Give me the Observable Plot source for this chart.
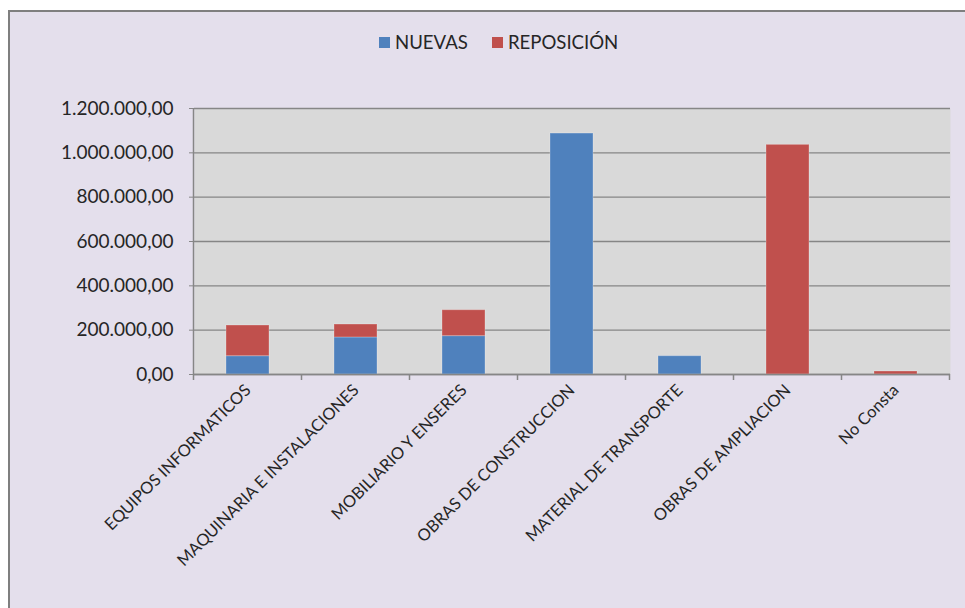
<!DOCTYPE html>
<html>
<head>
<meta charset="utf-8">
<script src="https://cdn.jsdelivr.net/npm/d3@7"></script>
<script src="https://cdn.jsdelivr.net/npm/@observablehq/plot@0.6"></script>
<style>
  body { margin: 0; background: #ffffff; font-family: Lato, "Open Sans", sans-serif; }
  #frame { position: absolute; left: 8px; top: 10px; width: 990px; height: 640px; border: 2px solid #7f7f7f; background: #E4DFEC; box-sizing: border-box; }
  #legend { position: absolute; left: 379px; top: 31px; display: flex; align-items: center; font-size: 18.6px; color: #262626; }
  .sw { display: inline-block; width: 11px; height: 11px; margin-right: 5px; }
  .item { display: flex; align-items: center; margin-right: 24px; }
  #chart { position: absolute; left: 0; top: 70px; }
</style>
</head>
<body>
<div id="frame"></div>
<div id="legend"></div>
<div id="chart"></div>
<script>
const categories = ["EQUIPOS INFORMATICOS", "MAQUINARIA E INSTALACIONES", "MOBILIARIO Y ENSERES", "OBRAS DE CONSTRUCCION", "MATERIAL DE TRANSPORTE", "OBRAS DE AMPLIACION", "No Consta"];
const series = ["NUEVAS", "REPOSICIÓN"];
const colors = ["#4F81BD", "#C0504D"];
const nuevas = [82500, 167000, 173000, 1087000, 82500, 0, 0];
const reposicion = [138500, 58500, 117000, 0, 0, 1036000, 13500];
const yTicks = [0, 200000, 400000, 600000, 800000, 1000000, 1200000];

const data = [];
categories.forEach((c, i) => {
  data.push({cat: c, series: series[0], value: nuevas[i]});
  data.push({cat: c, series: series[1], value: reposicion[i]});
});

const loc = d3.formatLocale({decimal: ",", thousands: ".", grouping: [3], currency: ["", "€"]});
const fmt = loc.format(",.2f");

// legend
const legend = document.getElementById("legend");
series.forEach((s, i) => {
  const it = document.createElement("div");
  it.className = "item";
  it.innerHTML = `<span class="sw" style="background:${colors[i]}"></span><span>${s}</span>`;
  legend.appendChild(it);
});

const gray = "#868686";
const chart = Plot.plot({
  width: 965,
  height: 538,
  marginTop: 38,
  marginBottom: 234,
  marginLeft: 194,
  marginRight: 15,
  style: {background: "transparent", fontFamily: "Lato, 'Open Sans', sans-serif", color: "#262626"},
  x: {domain: categories, paddingInner: 0.6, paddingOuter: 0.3, label: null},
  y: {domain: [0, 1200000], label: null},
  color: {domain: series, range: colors},
  marks: [
    Plot.frame({fill: "#D9D9D9", stroke: null}),
    Plot.gridY(yTicks, {stroke: gray, strokeOpacity: 1, strokeWidth: 1.3}),
    Plot.barY(data, {x: "cat", y: "value", fill: "series", stroke: "#ffffff", strokeOpacity: 0.25, strokeWidth: 1}),
    Plot.ruleY([0], {stroke: gray, strokeWidth: 1.5}),
    Plot.axisY(yTicks, {tickFormat: fmt, tickSize: 5, tickPadding: 16, stroke: gray, fontSize: 19, fill: "#262626"}),
    Plot.axisX({tickSize: 0, tickPadding: 13, tickRotate: -45, fontSize: 16.5, fill: "#262626", textAnchor: "end"})
  ]
});
document.getElementById("chart").appendChild(chart);

// category separators and y axis line, positioned with the chart's scales
const xs = chart.scale("x");
const ys = chart.scale("y");
const svg = d3.select(chart);
const gap = (xs.step - xs.bandwidth) / 2;
const bounds = categories.map(c => xs.apply(c) - gap);
bounds.push(xs.apply(categories[categories.length - 1]) + xs.bandwidth + gap);
const y0 = ys.apply(0);
const g = svg.append("g").attr("stroke", gray).attr("stroke-width", 1.5);
bounds.forEach(b => g.append("line").attr("x1", b).attr("x2", b).attr("y1", y0).attr("y2", y0 + 6));
g.append("line").attr("x1", bounds[0]).attr("x2", bounds[0]).attr("y1", ys.apply(1200000)).attr("y2", y0);
</script>
</body>
</html>
